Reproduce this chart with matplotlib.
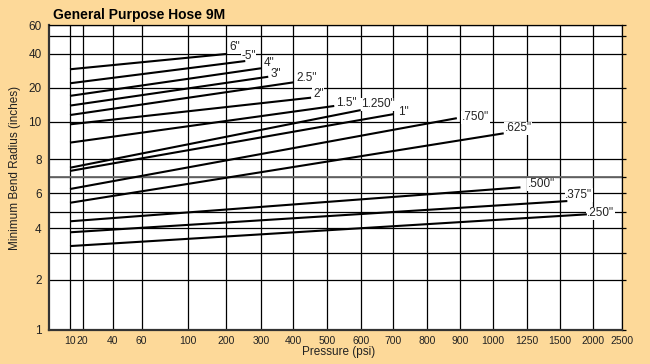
import numpy as np
import matplotlib
matplotlib.use("Agg")
import matplotlib.pyplot as plt
from matplotlib import font_manager

# hose sizes, top line to bottom line
hose_sizes = ['6"', '-5"', '4"', '3"', '2.5"', '2"', '1.5"', '1.250"', '1"',
              '.750"', '.625"', '.500"', '.375"', '.250"']
start_psi = [10, 10, 10, 10, 10, 10, 10, 10, 10, 10, 10, 10, 10, 10]
end_psi = [200, 250, 300, 320, 400, 450, 520, 600, 700, 890, 1075, 1200, 1600, 1900]
radius_start = [29.0, 21.8, 16.9, 13.9, 11.5, 9.86, 8.83, 7.49, 7.31, 6.23, 5.47, 4.41, 3.82, 3.26]
radius_end = [39.6, 34.3, 29.6, 24.9, 22.2, 16.3, 13.8, 12.7, 11.7, 10.8, 9.34, 6.33, 5.56, 4.86]

x_ticks = [10, 20, 40, 60, 100, 200, 300, 400, 500, 600, 700, 800, 900, 1000, 1250, 1500, 2000, 2500]
y_ticks = [1, 2, 4, 6, 8, 10, 20, 40, 60]
y_minor = [3, 5, 7, 50]

# label nudges in pixels (dx, dy) from the end of each line
label_offsets = [(3, 7), (-4, 5), (3, 5), (2, 2.5), (3, 4), (2, 4), (2, 3), (0, 6),
                 (5, 2), (5, 1), (1, 5), (7, 3), (-2, 6), (0, 1)]

# the printed chart is hand spaced, so map values to pixel spacing piecewise
X_SCALE_VAL = [5] + x_ticks
X_SCALE_PX = [48.5, 70, 82.7, 112.7, 141.7, 187.7, 226, 261, 293.3, 327, 360.7,
              393.3, 426.7, 460, 492.7, 526.7, 560, 592.7, 622.3]
Y_SCALE_VAL = [1, 2, 3, 4, 5, 6, 7, 8, 10, 20, 40, 50, 60]
Y_SCALE_PX = [330, 280, 253.3, 228.3, 212.3, 193, 176.7, 159, 122, 87.5, 53.5, 35.5, 25]


def piecewise_scale(vals, px, flip=False):
    lv = np.log10(vals)
    p = -np.asarray(px, float) if flip else np.asarray(px, float)

    def fwd(v):
        v = np.clip(np.asarray(v, float), 1e-9, None)
        return np.interp(np.log10(v), lv, p)

    def inv(q):
        return 10 ** np.interp(np.asarray(q, float), p, lv)

    return fwd, inv


names = {f.name for f in font_manager.fontManager.ttflist}
font = 'Liberation Sans Narrow' if 'Liberation Sans Narrow' in names else 'Liberation Sans'
plt.rcParams['font.family'] = [font, 'DejaVu Sans']

bg = '#fdd999'
W, H = 650, 364
fig = plt.figure(figsize=(W / 100, H / 100), dpi=100, facecolor=bg)
ax = fig.add_axes([48.5 / W, (H - 330) / H, (622.3 - 48.5) / W, (330 - 25) / H])
ax.set_facecolor('white')

ax.set_xscale('function', functions=piecewise_scale(X_SCALE_VAL, X_SCALE_PX))
ax.set_yscale('function', functions=piecewise_scale(Y_SCALE_VAL, Y_SCALE_PX, flip=True))
ax.set_xlim(5, 2500)
ax.set_ylim(1, 60)

ax.set_xticks(x_ticks)
ax.set_xticklabels([str(t) for t in x_ticks])
ax.set_yticks(y_ticks)
ax.set_yticklabels([str(t) for t in y_ticks])
ax.set_yticks(y_minor, minor=True)
ax.set_xticks([], minor=True)

ax.tick_params(axis='x', which='both', length=0, pad=4, labelsize=7.5, colors='#222')
ax.tick_params(axis='y', which='both', left=False, right=True, direction='out',
               length=3, width=0.9, pad=2, labelsize=8.5, colors='black',
               labelcolor='#222')

ax.grid(which='both', color='black', lw=0.9)
ax.set_axisbelow(True)
ax.axhline(7, color='#6a6a6a', lw=1.3, zorder=0.6)

for s in ['top', 'right']:
    ax.spines[s].set_linewidth(0.9)
for s in ['left', 'bottom']:
    ax.spines[s].set_linewidth(1.6)
    ax.spines[s].set_color('#333333')

for i, size in enumerate(hose_sizes):
    ax.plot([start_psi[i], end_psi[i]], [radius_start[i], radius_end[i]],
            color='black', lw=1.5, solid_capstyle='butt', zorder=3)
    dx, dy = label_offsets[i]
    ax.annotate(size, (end_psi[i], radius_end[i]), xytext=(dx, dy),
                textcoords='offset pixels', ha='left', va='center', fontsize=8.5,
                color='#222', zorder=2.5,
                bbox=dict(boxstyle='square,pad=0.05', fc='white', ec='none'))

fig.text(53 / W, 1 - 15.5 / H, 'General Purpose Hose 9M', fontsize=10,
         fontweight='bold', ha='left', va='center', color='black')
fig.text(15 / W, 1 - 168 / H, 'Minimum Bend Radius (inches)', rotation=90,
         fontsize=8.5, ha='center', va='center', color='#222')
fig.text(339 / W, 1 - 352.5 / H, 'Pressure (psi)', fontsize=8.5,
         ha='center', va='center', color='#222')

fig.savefig('out.png', dpi=100, facecolor=bg)
